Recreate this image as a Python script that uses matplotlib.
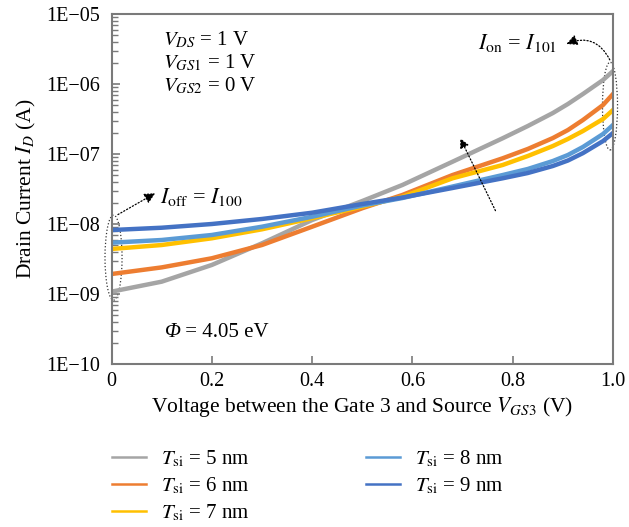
import matplotlib.pyplot as plt
from matplotlib.patches import Ellipse
from matplotlib.ticker import LogLocator, FixedLocator, NullFormatter

plt.rcParams['font.family'] = ['Liberation Serif', 'DejaVu Serif']
plt.rcParams['mathtext.fontset'] = 'stix'

# Data
vgs3 = [0.0, 0.1, 0.2, 0.3, 0.4, 0.5, 0.58, 0.68, 0.78, 0.83, 0.88, 0.91, 0.94, 0.98, 1.0]
id_5nm = [1.08e-9, 1.50e-9, 2.60e-9, 5.30e-9, 1.14e-8, 2.13e-8, 3.61e-8, 7.76e-8, 1.68e-7,
          2.51e-7, 3.85e-7, 5.18e-7, 7.20e-7, 1.14e-6, 1.53e-6]
id_6nm = [1.93e-9, 2.40e-9, 3.24e-9, 5.01e-9, 9.15e-9, 1.68e-8, 2.60e-8, 5.01e-8, 8.69e-8,
          1.18e-7, 1.69e-7, 2.20e-7, 3.06e-7, 5.01e-7, 7.20e-7]
id_7nm = [4.40e-9, 5.01e-9, 6.25e-9, 8.40e-9, 1.21e-8, 1.77e-8, 2.45e-8, 4.50e-8, 6.97e-8,
          9.36e-8, 1.30e-7, 1.64e-7, 2.13e-7, 3.16e-7, 4.25e-7]
id_8nm = [5.41e-9, 5.91e-9, 6.97e-9, 9.15e-9, 1.27e-8, 1.84e-8, 2.35e-8, 3.43e-8, 5.01e-8,
          6.11e-8, 7.94e-8, 9.68e-8, 1.26e-7, 1.93e-7, 2.60e-7]
id_9nm = [8.20e-9, 8.85e-9, 1.00e-8, 1.18e-8, 1.45e-8, 1.93e-8, 2.39e-8, 3.27e-8, 4.50e-8,
          5.35e-8, 6.74e-8, 8.07e-8, 1.03e-7, 1.53e-7, 2.00e-7]

series = [id_5nm, id_6nm, id_7nm, id_8nm, id_9nm]
labels = [r'$T_{\mathrm{si}}$ = 5 nm', r'$T_{\mathrm{si}}$ = 6 nm', r'$T_{\mathrm{si}}$ = 7 nm',
          r'$T_{\mathrm{si}}$ = 8 nm', r'$T_{\mathrm{si}}$ = 9 nm']
colors = ['#A5A5A5', '#ED7D31', '#FFC000', '#5B9BD5', '#4472C4']
ytick_vals = [1e-10, 1e-9, 1e-8, 1e-7, 1e-6, 1e-5]
ytick_labels = ['1E\u221210', '1E\u221209', '1E\u221208', '1E\u221207', '1E\u221206', '1E\u221205']

fig = plt.figure(figsize=(6.29, 5.27), dpi=100)
ax = fig.add_axes([0.1773, 0.3093, 0.7973, 0.6641])

for y, lab, c in zip(series, labels, colors):
    ax.plot(vgs3, y, color=c, lw=3.2, label=lab, solid_joinstyle='round')

ax.set_yscale('log')
ax.set_xlim(0, 1.0)
ax.set_ylim(1e-10, 1e-5)
ax.set_xticks([0, 0.2, 0.4, 0.6, 0.8, 1.0])
ax.set_xticklabels(['0', '0.2', '0.4', '0.6', '0.8', '1.0'])
ax.yaxis.set_major_locator(FixedLocator(ytick_vals))
ax.set_yticklabels(ytick_labels)
ax.yaxis.set_minor_locator(LogLocator(base=10, subs=range(2, 10)))
ax.yaxis.set_minor_formatter(NullFormatter())
ax.tick_params(axis='both', which='both', direction='in', colors='#7a7a7a',
               labelcolor='black', labelsize=14.5)
ax.tick_params(axis='y', which='major', length=6, width=1.2, pad=8)
ax.tick_params(axis='y', which='minor', length=4, width=1)
ax.tick_params(axis='x', which='major', length=6, width=1.2, pad=6)
ax.tick_params(right=False, top=False)
for s in ax.spines.values():
    s.set_color('#7a7a7a')
    s.set_linewidth(1.5)

ax.set_xlabel(r'Voltage between the Gate 3 and Source $V_{GS3}$ (V)', fontsize=15.5, labelpad=3)
ax.set_ylabel(r'Drain Current $I_D$ (A)', fontsize=15.5, labelpad=6)

# annotations
fs = 15
ax.text(0.103, 0.926, r'$V_{DS}$ = 1 V', transform=ax.transAxes, fontsize=fs, va='center')
ax.text(0.103, 0.86, r'$V_{GS1}$ = 1 V', transform=ax.transAxes, fontsize=fs, va='center')
ax.text(0.103, 0.794, r'$V_{GS2}$ = 0 V', transform=ax.transAxes, fontsize=fs, va='center')
ax.text(0.107, 0.091, '\u03a6', style='italic', transform=ax.transAxes, fontsize=fs, va='center')
ax.annotate(' = 4.05 eV', xy=(0.107, 0.091), xycoords='axes fraction', xytext=(10.5, 0),
            textcoords='offset points', fontsize=fs, va='center')
ax.text(0.731, 0.917, r'$I_{\mathrm{on}}$ = $I_{101}$', transform=ax.transAxes, fontsize=16, va='center')
ax.text(0.097, 0.477, r'$I_{\mathrm{off}}$ = $I_{100}$', transform=ax.transAxes, fontsize=16, va='center')

ax.add_patch(Ellipse((0.004, 0.304), 0.034, 0.243, transform=ax.transAxes, fill=False,
                     ls=':', lw=0.9, color='#333333', clip_on=False))
ax.add_patch(Ellipse((0.994, 0.737), 0.03, 0.251, transform=ax.transAxes, fill=False,
                     ls=':', lw=0.9, color='#333333', clip_on=False))
ax.annotate('', xy=(0.092, 0.492), xytext=(0.008, 0.423), xycoords='axes fraction',
            arrowprops=dict(arrowstyle='-|>', ls=':', lw=0.9, color='black', mutation_scale=16))
ax.annotate('', xy=(0.902, 0.911), xytext=(0.996, 0.862), xycoords='axes fraction',
            arrowprops=dict(arrowstyle='-|>', ls=':', lw=0.9, color='black', mutation_scale=16,
                            connectionstyle='arc3,rad=0.5'))
ax.annotate('', xy=(0.693, 0.652), xytext=(0.768, 0.431), xycoords='axes fraction',
            arrowprops=dict(arrowstyle='-|>', ls=':', lw=0.9, color='black', mutation_scale=14))

leg = fig.legend(loc='upper left', bbox_to_anchor=(0.178, 0.148), ncol=2, frameon=False,
                 fontsize=15, handlelength=1.65, handletextpad=0.7, columnspacing=5.6,
                 labelspacing=0.3, borderpad=0, borderaxespad=0)
for line in leg.get_lines():
    line.set_linewidth(1.8)

fig.savefig('out.png', dpi=100)
